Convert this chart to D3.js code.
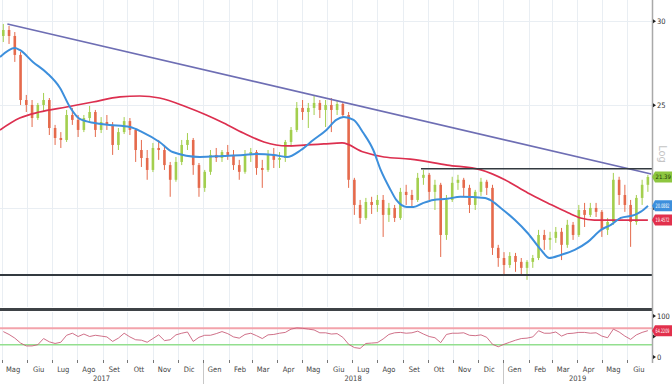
<!DOCTYPE html>
<html><head><meta charset="utf-8">
<script src="https://cdn.jsdelivr.net/npm/d3@7"></script>
<style>body{margin:0;background:#fff}svg{display:block}text{font-family:"DejaVu Sans Condensed","Liberation Sans Narrow","Liberation Sans",sans-serif}</style>
</head><body><svg id="c" width="672" height="384"></svg>
<script>
// ---- data (weekly candles, first week centre 2017-05-03) ----
const firstWeek = "2017-05-03";
const opens = [29.05,29.43,29.05,27.88,25.28,25.01,24.31,25.01,25.28,23.79,
23.28,23.18,24.47,24.21,23.69,24.31,24.63,23.69,24.10,23.95,
22.93,23.58,24.15,23.69,22.68,22.29,21.72,22.78,22.68,21.95,
21.26,22.10,22.93,23.18,21.95,20.89,21.63,22.44,22.29,22.58,
22.44,21.95,21.63,22.44,22.58,21.81,21.72,22.44,22.20,22.29,
23.08,23.69,24.85,24.63,24.85,25.12,24.74,25.01,24.74,25.06,
24.47,21.26,20.13,19.57,20.26,20.13,20.35,19.70,20.00,19.57,
20.71,20.57,20.35,21.35,21.49,20.71,21.03,18.86,20.35,21.12,
21.26,20.89,20.13,20.71,21.17,20.89,18.34,17.94,17.67,18.02,
17.79,17.56,17.79,17.94,18.86,18.66,18.74,18.99,18.46,19.28,
18.86,19.91,19.70,20.00,19.83,19.07,19.40,21.26,20.57,20.13,
19.40,20.44,21.03];
const highs = [29.82,29.69,29.30,28.06,25.56,25.28,25.12,25.67,25.39,23.95,
23.58,24.74,24.85,24.47,24.47,24.96,24.74,24.36,24.47,24.10,
23.79,24.36,24.31,23.79,23.18,22.68,23.03,23.18,22.93,22.10,
22.34,23.18,23.53,23.28,22.05,21.72,22.68,22.78,22.68,22.93,
22.68,22.20,22.68,22.78,22.68,22.20,22.68,22.78,22.58,23.18,
23.84,25.17,25.28,25.12,25.50,25.28,25.28,25.39,25.28,25.17,
24.63,21.35,20.35,20.44,20.49,20.57,20.57,20.22,20.13,20.89,
21.03,20.80,21.58,21.72,21.58,21.26,21.12,20.57,21.40,21.49,
21.35,21.03,20.80,21.35,21.26,21.03,18.46,18.17,18.17,18.14,
17.94,17.86,18.06,19.07,19.07,18.99,19.19,19.15,19.49,19.40,
20.13,20.22,20.22,20.22,19.91,19.57,21.58,21.40,21.03,20.35,
20.57,21.26,21.49];
const lows = [28.67,28.55,27.46,25.01,24.63,23.84,24.21,24.63,23.43,22.93,
22.78,23.08,23.95,23.33,23.58,24.10,23.33,23.53,23.69,22.44,
22.68,23.48,23.43,22.10,21.86,21.26,21.62,22.20,21.72,20.49,
21.17,21.95,22.68,21.49,20.49,20.71,21.49,22.10,22.10,22.20,
21.72,21.26,21.54,22.10,21.49,20.89,21.63,21.81,21.81,22.10,
22.83,23.58,24.21,23.79,24.47,24.31,23.84,23.58,24.47,24.31,
20.89,19.70,19.32,19.49,19.74,19.83,18.78,19.40,19.40,19.49,
20.13,20.00,20.26,21.03,20.35,19.91,17.98,18.66,20.26,20.80,
20.49,19.78,19.91,20.53,20.57,18.06,17.60,17.26,17.56,17.41,
17.30,17.11,17.56,17.86,18.26,18.26,18.54,17.86,18.34,18.66,
18.78,19.19,19.61,19.61,18.78,18.86,19.28,20.13,19.83,18.38,
19.28,20.13,20.71];
const closes = [29.43,29.05,27.88,25.28,25.01,24.31,25.01,25.28,23.79,23.28,
23.18,24.47,24.21,23.69,24.31,24.63,23.69,24.10,23.95,22.93,
23.58,24.15,23.69,22.68,22.29,21.72,22.78,22.68,21.95,21.26,
22.10,22.93,23.18,21.95,20.89,21.63,22.44,22.29,22.58,22.44,
21.95,21.63,22.44,22.58,21.81,21.72,22.44,22.20,22.29,23.08,
23.69,24.85,24.63,24.85,25.12,24.74,25.01,24.74,25.06,24.47,
21.26,20.13,19.57,20.26,20.13,20.35,19.70,20.00,19.57,20.71,
20.57,20.35,21.35,21.49,20.71,21.03,18.86,20.35,21.12,21.26,
20.89,20.13,20.71,21.17,20.89,18.34,17.94,17.67,18.02,17.79,
17.56,17.79,17.94,18.86,18.66,18.74,18.99,18.46,19.28,18.86,
19.91,19.70,20.00,19.83,19.07,19.40,21.26,20.57,20.13,19.40,
20.44,21.03,21.39];
const rsi = [62,55,46,34,27,27,30,45,37,33,
36,53,58,50,56,50,53,51,49,38,
46,58,49,42,41,36,45,54,40,42,
54,58,61,38,48,53,53,57,62,57,
49,46,55,58,52,45,54,55,58,60,
68,71,70,68,66,59,59,56,57,48,
31,23,21,33,34,35,44,55,59,60,
58,59,63,56,50,47,35,55,58,58,
59,53,52,54,48,31,25,31,36,41,
45,46,49,64,58,58,61,51,57,58,
60,60,58,59,51,47,68,61,51,43,
54,60,64.22];

const maShortDates = ["2017-04-29","2017-05-17","2017-05-23","2017-06-08","2017-06-25","2017-07-11","2017-07-23","2017-08-04","2017-08-22","2017-09-09","2017-10-04","2017-10-19","2017-11-09","2017-11-25","2017-12-28","2018-01-25","2018-02-19","2018-03-07","2018-03-28","2018-04-13","2018-04-30","2018-05-15","2018-05-31","2018-06-12","2018-06-21","2018-07-03","2018-07-15","2018-07-27","2018-08-05","2018-08-17","2018-08-24","2018-09-06","2018-09-14","2018-09-26","2018-10-08","2018-10-25","2018-11-10","2018-12-10","2018-12-16","2018-12-29","2019-01-15","2019-01-31","2019-02-16","2019-02-26","2019-03-12","2019-03-29","2019-04-14","2019-04-30","2019-05-12","2019-05-24","2019-06-10","2019-06-17","2019-06-26"];
const maShort = [27.75,28.30,28.18,27.46,26.81,25.95,24.90,24.26,24.05,23.95,23.84,23.58,23.08,22.58,22.34,22.39,22.44,22.49,22.44,22.34,22.68,23.18,23.69,24.21,24.36,24.21,23.53,22.68,21.72,20.80,20.35,20.04,20.04,20.22,20.35,20.40,20.49,20.44,20.35,20.00,19.49,18.93,18.26,17.94,18.06,18.26,18.58,19.07,19.28,19.57,19.70,19.83,20.09];

const maLongDates = ["2017-04-29","2017-05-23","2017-06-16","2017-07-19","2017-08-20","2017-09-22","2017-10-16","2017-11-09","2017-12-12","2018-01-05","2018-01-26","2018-02-19","2018-03-16","2018-04-13","2018-05-07","2018-05-28","2018-06-19","2018-07-15","2018-08-09","2018-09-10","2018-10-25","2018-12-05","2019-01-03","2019-01-31","2019-02-24","2019-03-21","2019-04-05","2019-04-22","2019-06-26"];
const maLong = [23.69,24.31,24.63,24.90,25.17,25.45,25.50,25.39,24.90,24.47,24.05,23.53,23.08,22.88,22.93,22.98,23.03,22.58,22.34,22.24,21.95,21.72,21.26,20.66,20.22,19.79,19.57,19.48,19.48];

const trendDates = ["2017-05-08","2019-06-30"];
const trendValues = [29.82,21.53];
const resistanceDates = ["2018-09-23","2019-07-01"];
const resistanceValue = 21.77;
const supportDates = ["2017-04-29","2019-07-01"];
const supportValue = 17.29;

const priceTicks = [20,25,30];
const rsiTicks = [0,50,100];
const rsiBands = [70,30];
const monthNames = ["Gen","Feb","Mar","Apr","Mag","Giu","Lug","Ago","Set","Ott","Nov","Dic"];
const lastLabels = [
  {text:"21.39", value:21.39, fill:"#8dc63f", color:"#1d3a08"},
  {text:"20.0882", value:20.09, fill:"#3d8fdc", color:"#fff"},
  {text:"19.4572", value:19.48, fill:"#e2304c", color:"#fff"}
];
const rsiLabel = {text:"64.2209", value:64.22};

// ---- drawing ----
const parse = d3.timeParse("%Y-%m-%d");
const plotR = 652, mainTop = 0, mainBot = 307, rsiTop = 316, rsiBot = 357;
const x = d3.scaleTime().domain([new Date(2017,3,29), new Date(2019,6,1)]).range([0, plotR]);
const y = d3.scaleLog().domain([16.13, 31.41]).range([mainBot, mainTop]);
const yr = d3.scaleLinear().domain([0,100]).range([rsiBot, rsiTop]);
const svg = d3.select("#c");

const defs = svg.append("defs");
defs.append("clipPath").attr("id","cm").append("rect").attr("x",0).attr("y",0).attr("width",plotR).attr("height",307);
defs.append("clipPath").attr("id","cr").append("rect").attr("x",0).attr("y",312).attr("width",plotR).attr("height",50);

const months = d3.timeMonth.range(new Date(2017,4,1), new Date(2019,6,1));
// grid
const grid = svg.append("g").attr("stroke","#e9eef3").attr("stroke-width",1);
months.forEach(m => {
  const xx = Math.round(x(m)) + 0.5;
  grid.append("line").attr("x1",xx).attr("x2",xx).attr("y1",0).attr("y2",307);
  grid.append("line").attr("x1",xx).attr("x2",xx).attr("y1",312).attr("y2",362);
});
priceTicks.forEach(t => {
  const yy = Math.round(y(t)) + 0.5;
  grid.append("line").attr("x1",0).attr("x2",plotR).attr("y1",yy).attr("y2",yy);
});

const main = svg.append("g").attr("clip-path","url(#cm)");
const weekDates = closes.map((_, i) => d3.timeDay.offset(parse(firstWeek), 7*i));
const upC = "#a3cf4e", dnC = "#e56a4c";
const candles = main.append("g");
closes.forEach((c, i) => {
  const o = opens[i], up = c >= o, col = up ? upC : dnC;
  const cx = x(weekDates[i]);
  candles.append("line").attr("x1",cx).attr("x2",cx).attr("y1",y(highs[i])).attr("y2",y(lows[i]))
    .attr("stroke",col).attr("stroke-width",1);
  const y1 = Math.min(y(o), y(c)), h = Math.max(1, Math.abs(y(o) - y(c)));
  candles.append("rect").attr("x",cx-1.3).attr("width",2.6).attr("y",y1).attr("height",h).attr("fill",col);
});

const lineT = d3.line().x(d => x(d[0])).y(d => y(d[1]));
const lineS = d3.line().x(d => x(d[0])).y(d => y(d[1])).curve(d3.curveMonotoneX);
main.append("path").datum(maLongDates.map((d,i)=>[parse(d), maLong[i]]))
  .attr("d", lineS).attr("fill","none").attr("stroke","#dc2f4f").attr("stroke-width",1.7);
main.append("path").datum(maShortDates.map((d,i)=>[parse(d), maShort[i]]))
  .attr("d", lineS).attr("fill","none").attr("stroke","#3d8fdc").attr("stroke-width",2);
main.append("path").datum(trendDates.map((d,i)=>[parse(d), trendValues[i]]))
  .attr("d", lineT).attr("fill","none").attr("stroke","#6e6eb4").attr("stroke-width",1.6);
main.append("path").datum(resistanceDates.map(d=>[parse(d), resistanceValue]))
  .attr("d", lineT).attr("fill","none").attr("stroke","#333a40").attr("stroke-width",1.5);
main.append("path").datum(supportDates.map(d=>[parse(d), supportValue]))
  .attr("d", lineT).attr("fill","none").attr("stroke","#333a40").attr("stroke-width",1.8);

// separator
svg.append("rect").attr("x",0).attr("y",308).attr("width",plotR).attr("height",3).attr("fill","#3e4246");

// RSI panel
const rp = svg.append("g").attr("clip-path","url(#cr)");
rp.append("line").attr("x1",0).attr("x2",plotR).attr("y1",yr(rsiBands[0])).attr("y2",yr(rsiBands[0]))
  .attr("stroke","#f3a3ab").attr("stroke-width",2);
rp.append("line").attr("x1",0).attr("x2",plotR).attr("y1",yr(rsiBands[1])).attr("y2",yr(rsiBands[1]))
  .attr("stroke","#93df8f").attr("stroke-width",1.5);
rp.append("path").datum(rsi.map((v,i)=>[weekDates[i], v]))
  .attr("d", d3.line().x(d=>x(d[0])).y(d=>yr(d[1])))
  .attr("fill","none").attr("stroke","#c9607a").attr("stroke-width",0.9);

// right axis
svg.append("line").attr("x1",plotR+0.5).attr("x2",plotR+0.5).attr("y1",0).attr("y2",363)
  .attr("stroke","#a9a9a9").attr("stroke-width",1.5);
function tri(g, yy){ g.append("path").attr("d",`M${plotR+1},${yy-2}L${plotR+4},${yy}L${plotR+1},${yy+2}Z`).attr("fill","#222"); }
const ra = svg.append("g");
priceTicks.forEach(t => {
  const yy = y(t); tri(ra, yy);
  if (t !== 20) ra.append("text").attr("x",plotR+5).attr("y",yy).attr("dy","0.35em").attr("font-size",7.5).attr("fill","#333").text(t);
});
rsiTicks.forEach(t => {
  const yy = yr(t); tri(ra, yy);
  if (t !== 50) ra.append("text").attr("x",plotR+5).attr("y",yy).attr("dy","0.35em").attr("font-size",7.5).attr("fill","#333").text(t);
});
svg.append("text").attr("transform",`translate(${plotR+7},154) rotate(90)`).attr("text-anchor","middle")
  .attr("font-size",11).attr("fill","#c4c4c4").text("Log");

function tag(yc, fill, color, text){
  svg.append("path").attr("d",`M${plotR},${yc}L${plotR+3},${yc-5.5}L672,${yc-5.5}L672,${yc+5.5}L${plotR+3},${yc+5.5}Z`).attr("fill",fill);
  svg.append("text").attr("x",plotR+3.5).attr("y",yc).attr("dy","0.35em").attr("font-size",6)
    .attr("textLength", text.length > 5 ? 14 : null).attr("lengthAdjust","spacingAndGlyphs")
    .attr("fill",color).text(text);
}
lastLabels.forEach(l => tag(y(l.value), l.fill, l.color, l.text));
tag(yr(rsiLabel.value), "#e2304c", "#fff", rsiLabel.text);

// bottom axis
const ax = svg.append("g");
months.forEach(m => {
  const xx = Math.round(x(m)) + 0.5;
  ax.append("line").attr("x1",xx).attr("x2",xx).attr("y1",360).attr("y2",363).attr("stroke","#777");
  const mid = x(d3.timeDay.offset(m, 14));
  const t = ax.append("text").attr("y",372).attr("font-size",7.5).attr("fill","#444").attr("text-anchor","middle")
    .text(monthNames[m.getMonth()]);
  const w = t.node().getComputedTextLength();
  t.attr("x", Math.max(mid, w/2 + 1));
});
const years = [2017, 2018, 2019];
const yStarts = [x.domain()[0], new Date(2018,0,1), new Date(2019,0,1), x.domain()[1]];
years.forEach((yv, i) => {
  ax.append("text").attr("x",(x(yStarts[i]) + x(yStarts[i+1]))/2).attr("y",381).attr("font-size",7.5)
    .attr("fill","#444").attr("text-anchor","middle").text(yv);
});
[new Date(2018,0,1), new Date(2019,0,1)].forEach(d => {
  const xx = Math.round(x(d)) + 0.5;
  ax.append("line").attr("x1",xx).attr("x2",xx).attr("y1",363).attr("y2",384).attr("stroke","#c8c8c8");
});
</script></body></html>
